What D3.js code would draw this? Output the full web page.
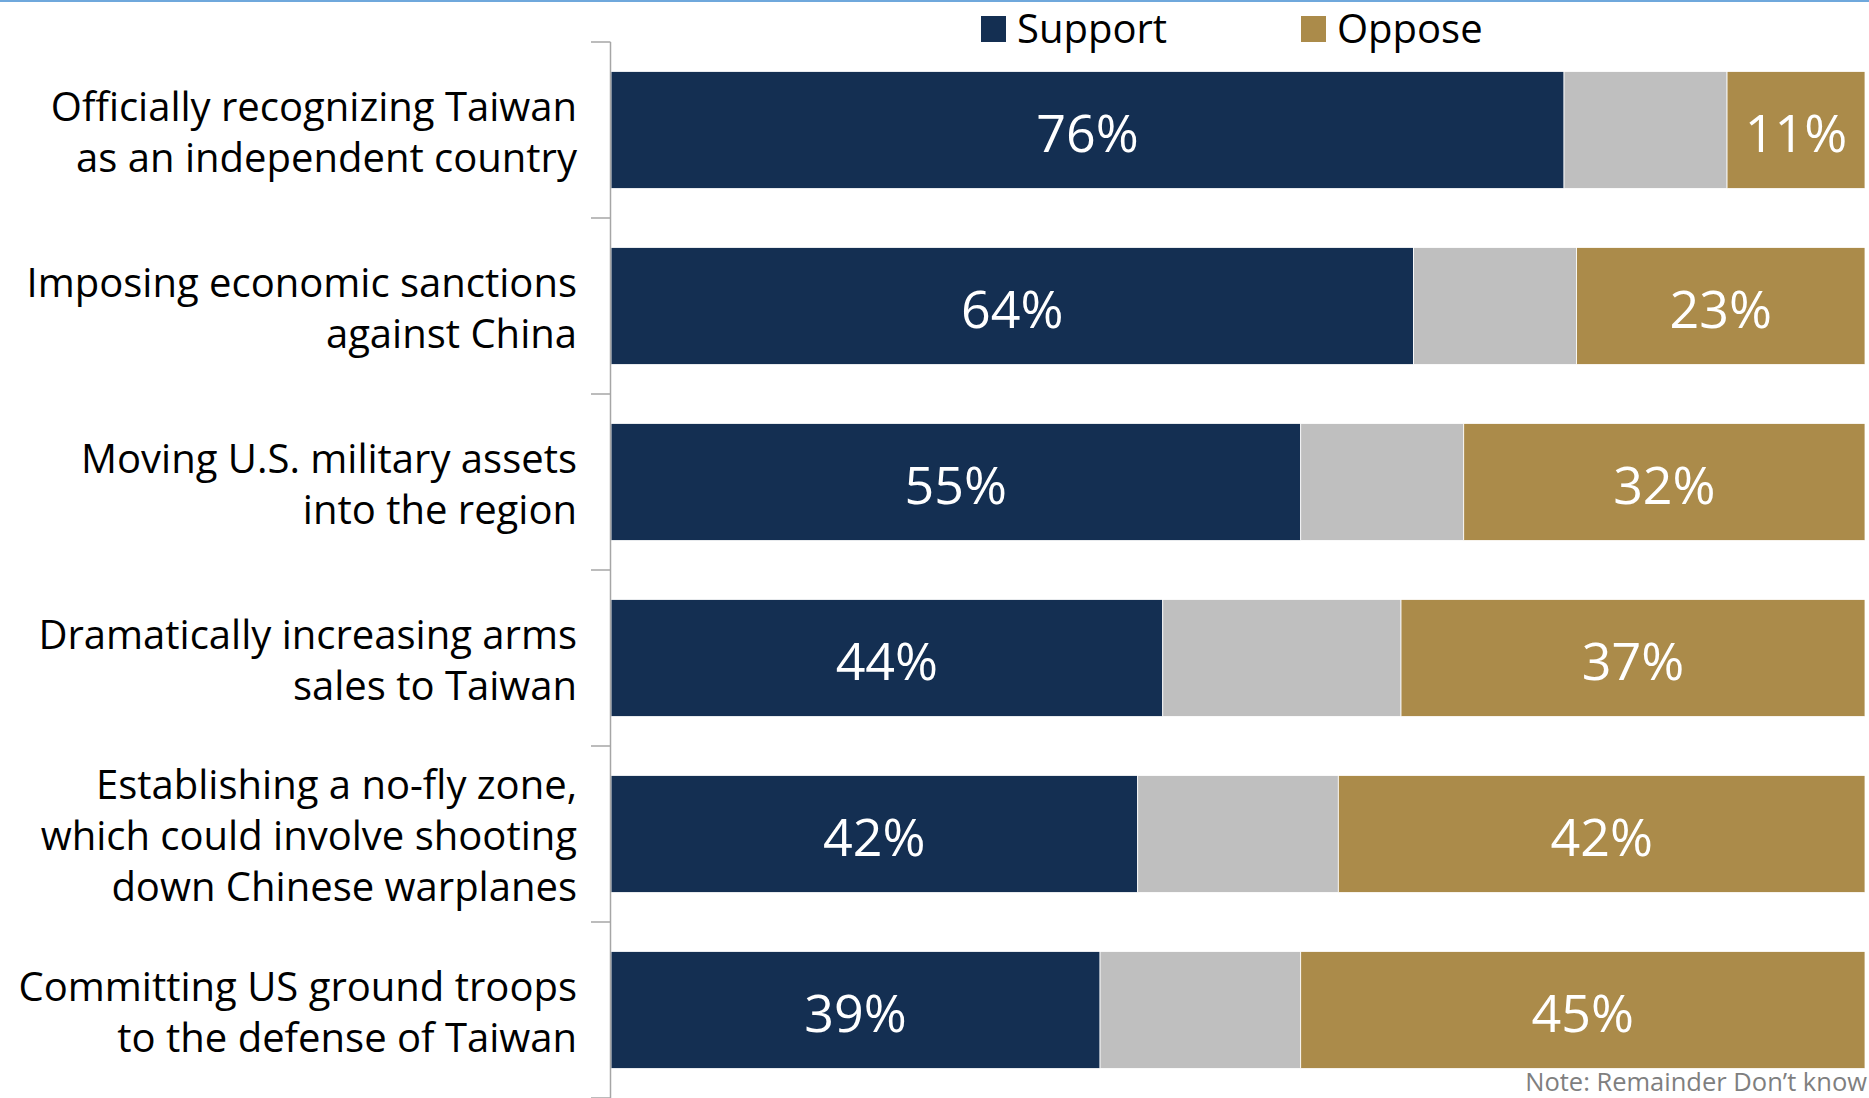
<!DOCTYPE html>
<html>
<head>
<meta charset="utf-8">
<script src="https://cdn.jsdelivr.net/npm/d3@7"></script>
<style>
  html, body { margin: 0; padding: 0; background: #fff; }
  svg { display: block; font-family: "Segoe UI", "Open Sans", sans-serif; }
</style>
</head>
<body>
<svg width="1869" height="1098"></svg>
<script>
const svg = d3.select('svg');
const width = +svg.attr('width');
const height = +svg.attr('height');

// data
const categories = [
    ['Officially recognizing Taiwan', 'as an independent country'],
    ['Imposing economic sanctions', 'against China'],
    ['Moving U.S. military assets', 'into the region'],
    ['Dramatically increasing arms', 'sales to Taiwan'],
    ['Establishing a no-fly zone,', 'which could involve shooting', 'down Chinese warplanes'],
    ['Committing US ground troops', 'to the defense of Taiwan']
];
const support = [76, 64, 55, 44, 42, 39];
const oppose = [11, 23, 32, 37, 42, 45];
const legendLabels = ['Support', 'Oppose'];
const noteText = 'Note: Remainder Don\u2019t know';

const colors = { support: '#142f52', dk: '#bfbfbf', oppose: '#ab8b4a' };

const margin = { top: 42, left: 611, right: 4 };

// top border line
svg.append('line')
    .attr('x1', 0).attr('x2', width)
    .attr('y1', 1).attr('y2', 1)
    .attr('stroke', '#6fa8dc')
    .attr('stroke-width', 2);

const keys = categories.map((c, i) => i);

const y = d3.scaleBand()
    .domain(keys)
    .range([margin.top, height])
    .paddingInner(0.335)
    .paddingOuter(0.1675);

const x = d3.scaleLinear()
    .domain([0, 100])
    .range([margin.left, width - margin.right]);

// build segments: support, don't know, oppose
const rows = keys.map(i => {
    const s = support[i], o = oppose[i], dk = 100 - s - o;
    return [
        { key: 'support', x0: 0, x1: s, value: s, label: true, row: i },
        { key: 'dk', x0: s, x1: s + dk, value: dk, label: false, row: i },
        { key: 'oppose', x0: s + dk, x1: 100, value: o, label: true, row: i }
    ];
});

const g = svg.append('g');

g.selectAll('.bar-row')
    .data(rows)
    .enter()
    .append('g')
    .attr('class', 'bar-row')
    .selectAll('rect')
    .data(d => d)
    .enter()
    .append('rect')
    .attr('x', d => x(d.x0))
    .attr('y', d => y(d.row))
    .attr('width', d => x(d.x1) - x(d.x0))
    .attr('height', y.bandwidth())
    .attr('fill', d => colors[d.key])
    .attr('stroke', '#ffffff')
    .attr('stroke-width', 0.8);

// value labels
g.selectAll('.val')
    .data(rows.flat().filter(d => d.label))
    .enter()
    .append('text')
    .attr('class', 'val')
    .attr('x', d => (x(d.x0) + x(d.x1)) / 2)
    .attr('y', d => y(d.row) + y.bandwidth() / 2 + 22)
    .attr('text-anchor', 'middle')
    .attr('fill', '#fff')
    .style('font-size', '52px')
    .text(d => d.value + '%');

// left axis with ticks at category boundaries
const step = y.step();
const axis = svg.append('g').attr('stroke', '#a6a6a6').attr('stroke-width', 1.5);
axis.append('line')
    .attr('x1', margin.left - 0.5).attr('x2', margin.left - 0.5)
    .attr('y1', margin.top).attr('y2', height);
axis.selectAll('.tick')
    .data(d3.range(keys.length + 1))
    .enter()
    .append('line')
    .attr('x1', margin.left - 20).attr('x2', margin.left - 0.5)
    .attr('y1', i => margin.top + i * step)
    .attr('y2', i => margin.top + i * step);

// category labels
const lineH = 51;
const catLabels = svg.selectAll('.cat')
    .data(categories)
    .enter()
    .append('text')
    .attr('class', 'cat')
    .attr('text-anchor', 'end')
    .attr('fill', '#000')
    .style('font-size', '40px');
catLabels.selectAll('tspan')
    .data((d, i) => d.map((t, j) => ({ t, j, n: d.length, row: i })))
    .enter()
    .append('tspan')
    .attr('x', 577)
    .attr('y', d => y(d.row) + y.bandwidth() / 2 + (d.j - (d.n - 1) / 2) * lineH + 16)
    .text(d => d.t);

// legend
const legend = svg.append('g');
const legendX = [981, 1301];
const legendColors = [colors.support, colors.oppose];
legend.selectAll('rect')
    .data(legendLabels)
    .enter()
    .append('rect')
    .attr('x', (d, i) => legendX[i])
    .attr('y', 16)
    .attr('width', 25)
    .attr('height', 26)
    .attr('fill', (d, i) => legendColors[i]);
legend.selectAll('text')
    .data(legendLabels)
    .enter()
    .append('text')
    .attr('x', (d, i) => legendX[i] + 36)
    .attr('y', 43)
    .style('font-size', '40px')
    .attr('fill', '#000')
    .text(d => d);

// note
svg.append('text')
    .attr('x', width - 2)
    .attr('y', 1091)
    .attr('text-anchor', 'end')
    .attr('fill', '#7f7f7f')
    .style('font-size', '25.5px')
    .text(noteText);
</script>
</body>
</html>
